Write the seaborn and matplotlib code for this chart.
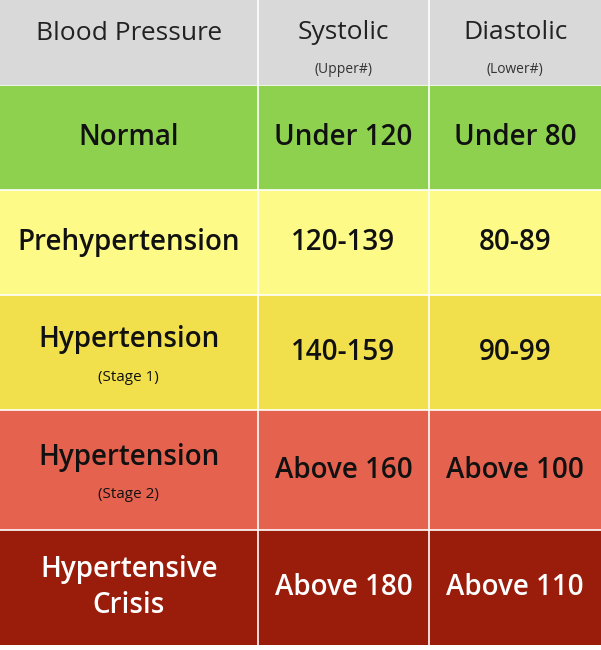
import numpy as np
import matplotlib
matplotlib.use("Agg")
import matplotlib.pyplot as plt
from matplotlib.colors import ListedColormap
import seaborn as sns

headers = ["Blood Pressure", "Systolic", "Diastolic"]
header_subs = ["", "(Upper#)", "(Lower#)"]
categories = ["Normal", "Prehypertension", "Hypertension", "Hypertension", "Hypertensive\nCrisis"]
category_subs = ["", "", "(Stage 1)", "(Stage 2)", ""]
systolic = ["Under 120", "120-139", "140-159", "Above 160", "Above 180"]
diastolic = ["Under 80", "80-89", "90-99", "Above 100", "Above 110"]
row_colors = ["#8dd14f", "#fdfa87", "#f1df4c", "#e5624f", "#9a1c0b"]
text_colors = ["#111111", "#111111", "#111111", "#111111", "#ffffff"]
row_units = [21, 21, 23, 24, 23]
col_units = [3, 2, 2]

font = "Open Sans"
fig = plt.figure(figsize=(6.01, 6.5), dpi=100)
fig.patch.set_facecolor("white")

# header
axh = fig.add_axes([0, 1 - 85/650, 1, 85/650])
hdata = np.zeros((1, sum(col_units)))
sns.heatmap(hdata, ax=axh, cmap=ListedColormap(["#d9d9d9"]), cbar=False,
            xticklabels=False, yticklabels=False)
edges = np.cumsum([0] + col_units)
for e in edges[1:-1]:
    axh.axvline(e, color="white", lw=1.2)
for i, (h, s) in enumerate(zip(headers, header_subs)):
    cx = (edges[i] + edges[i+1]) / 2
    if s:
        axh.text(cx, 0.38, h, ha="center", va="center", fontsize=19, family=font, color="#222")
        axh.text(cx, 0.82, s, ha="center", va="center", fontsize=10, family=font, color="#333")
    else:
        axh.text(cx, 0.4, h, ha="center", va="center", fontsize=19, family=font, color="#222")

# body
axb = fig.add_axes([0, 5/650, 1, 560/650])
rows = np.repeat(np.arange(len(categories)), row_units)
bdata = np.repeat(rows[:, None], sum(col_units), axis=1)
sns.heatmap(bdata, ax=axb, cmap=ListedColormap(row_colors), cbar=False,
            vmin=-0.5, vmax=len(row_colors) - 0.5, xticklabels=False, yticklabels=False)
redges = np.cumsum([0] + row_units)
for e in redges[:-1]:
    axb.axhline(e, color="white", lw=1.2)
for e in edges[1:-1]:
    axb.axvline(e, color="white", lw=1.2)
for r in range(len(categories)):
    cy = (redges[r] + redges[r+1]) / 2
    tc = text_colors[r]
    if category_subs[r]:
        axb.text(edges[1]/2, cy - 2.5, categories[r], ha="center", va="center",
                 fontsize=20, family=font, weight="semibold", color=tc)
        axb.text(edges[1]/2, cy + 5, category_subs[r], ha="center", va="center",
                 fontsize=11, family=font, color=tc)
    else:
        axb.text(edges[1]/2, cy, categories[r], ha="center", va="center",
                 fontsize=20, family=font, weight="semibold", color=tc, linespacing=1.3)
    for j, vals in ((1, systolic), (2, diastolic)):
        cx = (edges[j] + edges[j+1]) / 2
        axb.text(cx, cy, vals[r], ha="center", va="center", fontsize=20,
                 family=font, weight="semibold", color=tc)

fig.savefig("out.png", dpi=100, facecolor="white")
